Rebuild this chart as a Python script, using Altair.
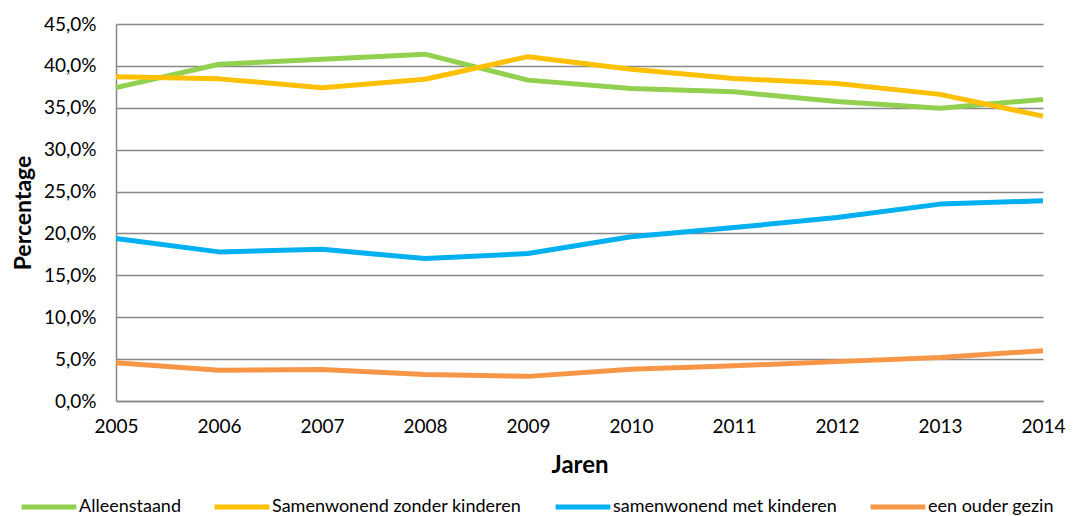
import altair as alt
import pandas as pd

years = [2005, 2006, 2007, 2008, 2009, 2010, 2011, 2012, 2013, 2014]
series_names = ["Alleenstaand", "Samenwonend zonder kinderen",
                "samenwonend met kinderen", "een ouder gezin"]
colors = ["#92D050", "#FFC000", "#00B0F0", "#F79646"]

alleenstaand = [37.4, 40.2, 40.8, 41.4, 38.3, 37.3, 36.9, 35.75, 34.95, 36.0]
zonder_kinderen = [38.7, 38.45, 37.4, 38.4, 41.1, 39.6, 38.5, 37.9, 36.6, 34.0]
met_kinderen = [19.4, 17.8, 18.1, 17.0, 17.6, 19.6, 20.7, 21.9, 23.5, 23.9]
een_ouder = [4.56, 3.67, 3.75, 3.15, 2.94, 3.8, 4.2, 4.7, 5.2, 6.0]

y_ticks = [0, 5, 10, 15, 20, 25, 30, 35, 40, 45]

rows = []
for name, vals in zip(series_names, [alleenstaand, zonder_kinderen, met_kinderen, een_ouder]):
    for yr, v in zip(years, vals):
        rows.append({"jaar": yr, "pct": v, "reeks": name})
df = pd.DataFrame(rows)

FONT = "Lato"
GRID = "#878787"

chart = alt.Chart(df).mark_line(strokeWidth=5, strokeJoin="round").encode(
    x=alt.X("jaar:Q",
            scale=alt.Scale(domain=[2005, 2014], nice=False, zero=False),
            axis=alt.Axis(values=years, format="d", title="Jaren", grid=False,
                          ticks=False, tickSize=0, labelPadding=16, labelFlush=False,
                          labelFontSize=19, labelColor="#000000", labelFont=FONT,
                          domainColor=GRID, domainWidth=1.5,
                          titleFont=FONT, titleFontSize=24, titleFontWeight="bold",
                          titleColor="#000000", titleX=463.5, titleY=64,
                          titleBaseline="middle", titleAlign="center")),
    y=alt.Y("pct:Q",
            scale=alt.Scale(domain=[0, 45], nice=False),
            axis=alt.Axis(values=y_ticks,
                          labelExpr="replace(format(datum.value, '.1f'), '.', ',') + '%'",
                          title="Percentage", grid=True, gridColor=GRID, gridWidth=1.5,
                          ticks=False, tickSize=0, labelPadding=20,
                          labelFontSize=19, labelColor="#000000", labelFont=FONT,
                          domainColor=GRID, domainWidth=1.5,
                          titleFont=FONT, titleFontSize=23, titleFontWeight="bold",
                          titleColor="#000000", titleX=-92.5, titleY=188.5,
                          titleBaseline="middle", titleAlign="center", titleAngle=-90)),
    color=alt.Color("reeks:N",
                    scale=alt.Scale(domain=series_names, range=colors),
                    sort=series_names,
                    legend=alt.Legend(title=None, orient="none", direction="horizontal",
                                      legendX=-97, legendY=453, columns=4,
                                      symbolType="stroke", symbolStrokeWidth=5,
                                      symbolSize=3000, labelOffset=0, columnPadding=23,
                                      labelFontSize=18, labelFont=FONT,
                                      labelColor="#000000", labelLimit=400)),
).properties(
    width=927, height=377,
    padding={"left": 108, "top": 16, "right": 33, "bottom": 140},
    autosize=alt.AutoSizeParams(type="none"),
).configure(font=FONT, view=alt.ViewConfig(stroke=None, strokeWidth=0))

chart.save("out.html", embed_options={"renderer": "svg", "actions": False})
